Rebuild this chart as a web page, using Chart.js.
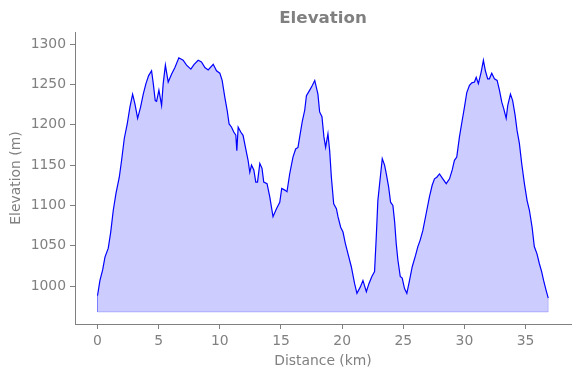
<!DOCTYPE html>
<html>
<head>
<meta charset="utf-8">
<script src="https://cdn.jsdelivr.net/npm/chart.js@4.4.0/dist/chart.umd.min.js"></script>
<style>
  html, body { margin: 0; padding: 0; background: #fff; }
</style>
</head>
<body>
<canvas id="chart" width="580" height="378"></canvas>
<script>
// distance along the route (km) and elevation (m)
const distance = [
  0, 0.2, 0.42, 0.61, 0.88, 1.08, 1.29, 1.51, 1.78, 1.97, 2.19, 2.43, 2.65, 2.87, 3.06, 3.28,
  3.52, 3.74, 3.96, 4.18, 4.42, 4.56, 4.72, 4.83, 5.02, 5.24, 5.37, 5.55, 5.78, 6.06, 6.33, 6.65,
  7.0, 7.28, 7.63, 7.9, 8.23, 8.5, 8.78, 9.05, 9.46, 9.73, 10.0, 10.19, 10.41, 10.6, 10.76, 10.96,
  11.14, 11.31, 11.39, 11.5, 11.71, 11.9, 12.12, 12.31, 12.45, 12.59, 12.78, 12.94, 13.08, 13.27,
  13.45, 13.59, 13.86, 14.08, 14.35, 14.63, 14.9, 15.06, 15.31, 15.49, 15.71, 15.98, 16.2, 16.39,
  16.53, 16.75, 16.94, 17.08, 17.35, 17.57, 17.76, 18.02, 18.16, 18.35, 18.51, 18.65, 18.84, 18.98,
  19.12, 19.31, 19.53, 19.66, 19.88, 20.07, 20.26, 20.48, 20.75, 21.02, 21.21, 21.49, 21.7, 21.98,
  22.19, 22.43, 22.65, 22.79, 22.92, 23.12, 23.28, 23.47, 23.61, 23.8, 23.96, 24.15, 24.29, 24.42,
  24.56, 24.75, 24.91, 25.1, 25.29, 25.51, 25.73, 26.0, 26.19, 26.38, 26.6, 26.87, 27.14, 27.36,
  27.55, 27.74, 27.96, 28.23, 28.51, 28.78, 29.0, 29.18, 29.37, 29.59, 29.81, 30.0, 30.19, 30.41,
  30.6, 30.82, 30.96, 31.14, 31.36, 31.55, 31.71, 31.9, 32.04, 32.23, 32.45, 32.67, 32.86, 33.05,
  33.21, 33.41, 33.54, 33.76, 33.94, 34.14, 34.3, 34.49, 34.68, 34.9, 35.12, 35.31, 35.53, 35.71,
  35.93, 36.12, 36.31, 36.47, 36.67, 36.85
];
const elevation = [
  988, 1007, 1020, 1036, 1047, 1067, 1094, 1115, 1135, 1156, 1183, 1201, 1222, 1238, 1226, 1208,
  1222, 1238, 1251, 1261, 1267, 1251, 1230, 1229, 1243, 1224, 1251, 1274, 1253, 1263, 1271, 1283,
  1280, 1274, 1269, 1275, 1280, 1278, 1271, 1268, 1275, 1267, 1264, 1255, 1234, 1218, 1201, 1197,
  1191, 1187, 1168, 1197, 1191, 1187, 1170, 1156, 1141, 1150, 1144, 1129, 1129, 1152,
  1146, 1129, 1127, 1111, 1086, 1096, 1104, 1121, 1119, 1117, 1139, 1160, 1170, 1172,
  1185, 1205, 1218, 1236, 1243, 1249, 1255, 1238, 1216, 1210, 1185, 1172, 1189, 1168,
  1135, 1102, 1096, 1086, 1073, 1067, 1053, 1040, 1024, 1003, 991, 999, 1007, 993,
  1003, 1012, 1018, 1061, 1106, 1135, 1158, 1150, 1139, 1123, 1104, 1100, 1080, 1053,
  1032, 1012, 1010, 997, 991, 1007, 1024, 1038, 1049, 1057, 1069, 1090, 1111, 1125,
  1133, 1135, 1139, 1133, 1127, 1133, 1144, 1156, 1160, 1185, 1205, 1222, 1240, 1249,
  1252, 1253, 1259, 1251, 1265, 1280, 1267, 1257, 1257, 1264, 1257, 1255, 1243, 1228,
  1220, 1208, 1224, 1238, 1230, 1212, 1193, 1177, 1152, 1127, 1106, 1094, 1073, 1049,
  1040, 1028, 1018, 1007, 995, 985
];
const baseline = 968;
const xTicks = [0, 5, 10, 15, 20, 25, 30, 35];
const yTicks = [1000, 1050, 1100, 1150, 1200, 1250, 1300];

const gray = '#808080';
const font = 'DejaVu Sans';

const profile = distance.map((d, i) => ({ x: d, y: elevation[i] }));
const last = distance.length - 1;
const fillEdge = [
  { x: distance[0], y: elevation[0] },
  { x: distance[0], y: baseline },
  { x: distance[last], y: baseline },
  { x: distance[last], y: elevation[last] },
];

const axisCommon = {
  type: 'linear',
  border: { display: true, color: gray, width: 1 },
  grid: { display: true, drawOnChartArea: false, drawTicks: true, tickLength: 5, color: gray },
  ticks: {
    color: gray,
    font: { family: font, size: 13.9 },
    padding: 4,
    callback: (v) => String(v),
  },
};

new Chart(document.getElementById('chart'), {
  type: 'line',
  data: {
    datasets: [
      {
        data: profile,
        borderColor: '#0000ff',
        borderWidth: 1.2,
        backgroundColor: 'rgba(0, 0, 255, 0.2)',
        fill: { value: baseline },
        pointRadius: 0,
        tension: 0,
      },
      {
        data: fillEdge,
        borderColor: 'rgba(0, 0, 255, 0.2)',
        borderWidth: 1,
        fill: false,
        pointRadius: 0,
      },
    ],
  },
  options: {
    responsive: false,
    animation: false,
    devicePixelRatio: 1,
    layout: { padding: { left: 0, right: 9, top: 0, bottom: 0 } },
    plugins: {
      legend: { display: false },
      tooltip: { enabled: false },
      title: {
        display: true,
        fullSize: false,
        text: 'Elevation',
        color: gray,
        font: { family: font, size: 16.7, weight: 'bold' },
        padding: { top: 9, bottom: 3 },
      },
    },
    scales: {
      x: {
        ...axisCommon,
        position: 'bottom',
        min: -1.84,
        max: 38.71,
        afterBuildTicks: (scale) => { scale.ticks = xTicks.map((v) => ({ value: v })); },
        afterFit: (scale) => { scale.height = 54; },
        title: {
          display: true,
          text: 'Distance (km)',
          color: gray,
          font: { family: font, size: 13.9 },
          padding: { top: 0, bottom: 8.6 },
        },
      },
      y: {
        ...axisCommon,
        position: 'left',
        min: 953,
        max: 1315,
        afterBuildTicks: (scale) => { scale.ticks = yTicks.map((v) => ({ value: v })); },
        afterFit: (scale) => { scale.width = 75; },
        title: {
          display: true,
          text: 'Elevation (m)',
          color: gray,
          font: { family: font, size: 13.9 },
          padding: { top: 7.6, bottom: 0 },
        },
      },
    },
  },
});
</script>
</body>
</html>
